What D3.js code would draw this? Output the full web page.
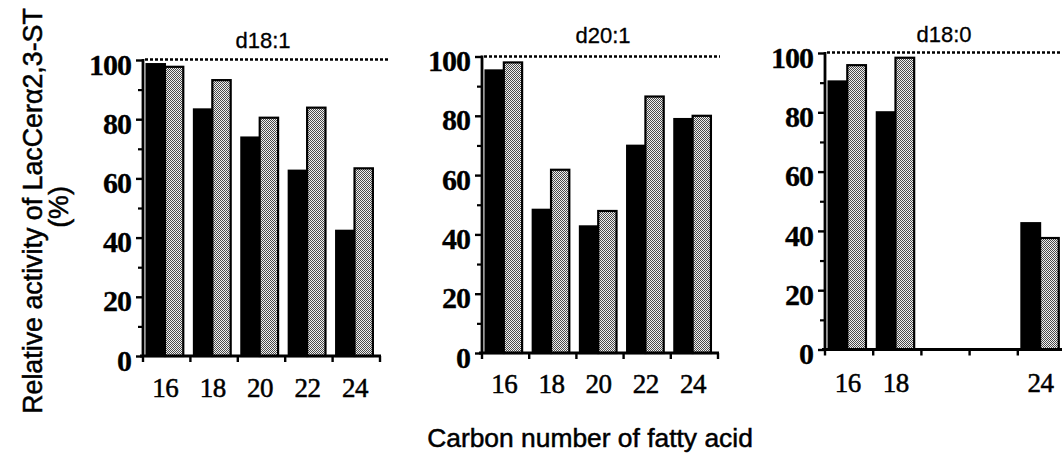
<!DOCTYPE html>
<html>
<head>
<meta charset="utf-8">
<script src="https://cdn.jsdelivr.net/npm/d3@7"></script>
<style>
  body { margin: 0; background: #fff; }
  svg { display: block; }
</style>
</head>
<body>
<svg id="chart" width="1062" height="453"></svg>
<script>
// ---- data ----
const categories = ["16", "18", "20", "22", "24"];
const seriesNames = ["solid", "hatched"];
const panelTitles = ["d18:1", "d20:1", "d18:0"];
const tickLabels181 = ["16", "18", "20", "22", "24"];
const tickLabels201 = ["16", "18", "20", "22", "24"];
const tickLabels180 = ["16", "18", "", "", "24"];
const d181Solid   = [98.6, 83.3, 73.8, 62.6, 42.3];
const d181Hatched = [97.7, 93.2, 80.5, 83.9, 63.4];
const d201Solid   = [95.3, 48.3, 42.7, 69.9, 78.9];
const d201Hatched = [98.0, 61.8, 47.9, 86.5, 80.0];
const d180Solid   = [90.4, 80.0, null, null, 42.6];
const d180Hatched = [95.9, 98.4, null, null, 37.6];
const yTicks = [0, 20, 40, 60, 80, 100];
const yMinorTicks = [10, 30, 50, 70, 90];
const refLine = 100;

const panels = [
  { title: panelTitles[0], labels: tickLabels181, values: [d181Solid, d181Hatched],
    x0: 143, x1: 380, yTop: 60, yBot: 356, dotEnd: 390, titleX: 263, titleY: 48, labY: 397 },
  { title: panelTitles[1], labels: tickLabels201, values: [d201Solid, d201Hatched],
    x0: 482, x1: 718, yTop: 56.5, yBot: 353, dotEnd: 720, titleX: 603, titleY: 43, labY: 393 },
  { title: panelTitles[2], labels: tickLabels180, values: [d180Solid, d180Hatched],
    x0: 825, x1: 1066, yTop: 53, yBot: 349.5, dotEnd: 1062, titleX: 944, titleY: 42, labY: 392 }
];

const serif = "'Liberation Serif', 'Times New Roman', serif";
const sans = "'Liberation Sans', Arial, sans-serif";

const svg = d3.select("#chart");
const defs = svg.append("defs");
const pat = defs.append("pattern").attr("id", "checker")
  .attr("patternUnits", "userSpaceOnUse").attr("width", 2).attr("height", 2);
pat.append("rect").attr("width", 2).attr("height", 2).attr("fill", "#f0f0f0");
pat.append("rect").attr("x", 0).attr("y", 0).attr("width", 1).attr("height", 1).attr("fill", "#4a4a4a");
pat.append("rect").attr("x", 1).attr("y", 1).attr("width", 1).attr("height", 1).attr("fill", "#4a4a4a");

const fills = ["#000", "url(#checker)"];

panels.forEach(p => {
  const g = svg.append("g");
  const x = d3.scaleBand().domain(categories).range([p.x0, p.x1]).padding(0);
  const bw = x.bandwidth();
  const xs = d3.scaleBand().domain(seriesNames).range([0.075 * bw, 0.85 * bw]).padding(0);
  const y = d3.scaleLinear().domain([0, 100]).range([p.yBot, p.yTop]);

  // bars
  seriesNames.forEach((s, si) => {
    g.selectAll(null)
      .data(categories.map((c, i) => ({ c, v: p.values[si][i] })).filter(d => d.v != null))
      .enter().append("rect")
      .attr("x", d => x(d.c) + xs(s))
      .attr("y", d => y(d.v))
      .attr("width", xs.bandwidth())
      .attr("height", d => y(0) - y(d.v))
      .attr("fill", fills[si])
      .attr("stroke", "#000")
      .attr("stroke-width", 2.2);
  });

  // reference dotted line at 100
  g.append("line")
    .attr("x1", p.x0 + 2).attr("x2", p.dotEnd)
    .attr("y1", Math.round(y(refLine)) - 0.5).attr("y2", Math.round(y(refLine)) - 0.5)
    .attr("stroke", "#000").attr("stroke-width", 2.6)
    .attr("stroke-dasharray", "3,2");

  // y axis
  const yAxis = d3.axisLeft(y).tickValues(yTicks).tickSize(7).tickFormat(d3.format("d")).tickPadding(5);
  const ya = g.append("g").attr("transform", `translate(${p.x0},0)`).call(yAxis);
  ya.select(".domain").attr("stroke-width", 2.8).attr("d", `M0,${p.yBot + 1}V${p.yTop - 1}`);
  ya.selectAll(".tick line").attr("stroke-width", 2.4);
  ya.selectAll(".tick text")
    .attr("font-family", serif)
    .attr("font-size", 30).attr("font-weight", "bold").attr("fill", "#000")
    .attr("stroke", "#000").attr("stroke-width", 0.3)
    .attr("letter-spacing", -1)
    .attr("dy", "0.47em");
  const yMinor = d3.axisLeft(y).tickValues(yMinorTicks).tickSize(5).tickFormat("");
  const ym = g.append("g").attr("transform", `translate(${p.x0},0)`).call(yMinor);
  ym.select(".domain").remove();
  ym.selectAll(".tick line").attr("stroke-width", 2.2);

  // x axis with ticks at band boundaries
  const xAxisG = g.append("g").attr("transform", `translate(0,${p.yBot})`);
  xAxisG.append("line").attr("x1", p.x0 - 3).attr("x2", p.x1 + 1)
    .attr("y1", 0).attr("y2", 0).attr("stroke", "#000").attr("stroke-width", 2.8);
  const bounds = categories.map(c => x(c)).concat([p.x1]);
  xAxisG.selectAll(null).data(bounds).enter().append("line")
    .attr("x1", d => d).attr("x2", d => d).attr("y1", 0).attr("y2", 6)
    .attr("stroke", "#000").attr("stroke-width", 2.4);
  xAxisG.selectAll(null).data(categories.map((c, i) => ({ c, lab: p.labels[i] }))).enter()
    .append("text")
    .attr("x", d => x(d.c) + bw * 0.47)
    .attr("y", p.labY - p.yBot)
    .attr("text-anchor", "middle")
    .attr("font-family", serif)
    .attr("font-size", 27).attr("fill", "#000")
    .attr("stroke", "#000").attr("stroke-width", 0.5)
    .attr("letter-spacing", -0.5)
    .text(d => d.lab);

  // panel title
  g.append("text").attr("x", p.titleX).attr("y", p.titleY)
    .attr("text-anchor", "middle")
    .attr("font-family", sans)
    .attr("font-size", 22).attr("fill", "#000")
    .attr("stroke", "#000").attr("stroke-width", 0.3)
    .text(p.title);
});

// axis titles
const titleStyle = sel => sel
  .attr("text-anchor", "middle")
  .attr("font-family", sans)
  .attr("fill", "#000")
  .attr("stroke", "#000").attr("stroke-width", 0.5);

svg.append("text")
  .attr("transform", "translate(42,211) rotate(-90)")
  .attr("font-size", 26.8)
  .call(titleStyle)
  .text("Relative activity of LacCerα2,3-ST");
svg.append("text")
  .attr("transform", "translate(68,207) rotate(-90)")
  .attr("font-size", 26.8)
  .call(titleStyle)
  .text("(%)");
svg.append("text")
  .attr("x", 590).attr("y", 447)
  .attr("font-size", 26.4)
  .call(titleStyle)
  .text("Carbon number of fatty acid");
</script>
</body>
</html>
